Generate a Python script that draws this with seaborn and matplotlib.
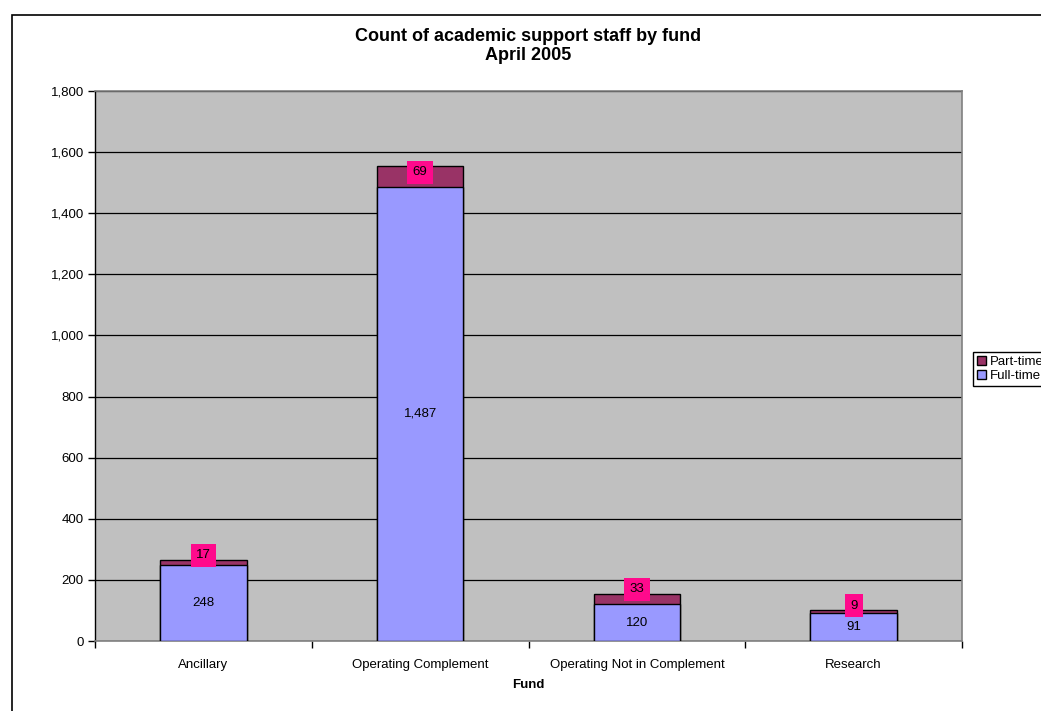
import matplotlib
matplotlib.use("Agg")
import matplotlib.pyplot as plt
from matplotlib.patches import Patch, Rectangle
from matplotlib.ticker import FuncFormatter, FixedLocator
import seaborn as sns
import pandas as pd

# Chart data
funds = ["Ancillary", "Operating Complement", "Operating Not in Complement", "Research"]
full_time = [248, 1487, 120, 91]
part_time = [17, 69, 33, 9]

df = pd.DataFrame({"Fund": funds, "Full-time": full_time, "Part-time": part_time})
df["Total"] = df["Full-time"] + df["Part-time"]

full_color = "#9999FF"
part_color = "#993366"
label_color = "#FF0A8C"

sns.set_theme(style="white")
plt.rcParams["font.family"] = ["Liberation Sans", "DejaVu Sans"]
plt.rcParams["text.color"] = "black"
plt.rcParams["axes.labelcolor"] = "black"

fs = 9.5

fig = plt.figure(figsize=(10.41, 7.11), dpi=100)
ax = fig.add_axes([95 / 1041, 1 - 641 / 711, (962 - 95) / 1041, (641 - 91) / 711])
ax.set_facecolor("#C0C0C0")

# stacked bars: totals first (part-time colour), full-time drawn over them
sns.barplot(data=df, x="Fund", y="Total", color=part_color, width=0.4,
            edgecolor="black", linewidth=1, saturation=1, ax=ax, zorder=3)
sns.barplot(data=df, x="Fund", y="Full-time", color=full_color, width=0.4,
            edgecolor="black", linewidth=1, saturation=1, ax=ax, zorder=3)

ax.set_ylim(0, 1800)
ax.set_xlim(-0.5, 3.5)
ax.yaxis.set_major_locator(FixedLocator(range(0, 1801, 200)))
ax.yaxis.set_major_formatter(FuncFormatter(lambda v, p: f"{int(v):,}"))
ax.grid(axis="y", color="black", linewidth=0.9, zorder=1)
ax.set_axisbelow(True)

ax.set_xticks(range(len(funds)))
ax.set_xticklabels(funds)
ax.set_xticks([i - 0.5 for i in range(len(funds) + 1)], minor=True)
ax.tick_params(axis="x", which="major", length=0, pad=13, labelsize=fs, colors="black")
ax.tick_params(axis="x", which="minor", length=5, width=1, color="black", bottom=True)
ax.tick_params(axis="y", length=5, width=1, color="black", left=True, labelsize=fs,
               pad=3, colors="black")

for side in ["top", "right", "bottom"]:
    ax.spines[side].set_color("#808080")
    ax.spines[side].set_linewidth(1.2)
ax.spines["left"].set_color("black")
ax.spines["left"].set_linewidth(1)

ax.set_ylabel("")
ax.set_xlabel("Fund", fontsize=fs, fontweight="bold", labelpad=6)

# value labels
for i, row in df.iterrows():
    ax.text(i, row["Full-time"] / 2, f"{row['Full-time']:,}", ha="center", va="center",
            fontsize=fs, color="black", zorder=5)
    seg_mid = row["Full-time"] + row["Part-time"] / 2
    if row["Part-time"] < 60:
        ax.text(i, row["Total"] - 4, f"{row['Part-time']:,}", ha="center", va="bottom",
                fontsize=fs, color="black", zorder=5,
                bbox=dict(boxstyle="square,pad=0.4", fc=label_color, ec="none"))
    else:
        ax.text(i, seg_mid + 12, f"{row['Part-time']:,}", ha="center", va="center",
                fontsize=fs, color="black", zorder=5,
                bbox=dict(boxstyle="square,pad=0.4", fc=label_color, ec="none"))

fig.text(528.5 / 1041, 1 - 46 / 711, "Count of academic support staff by fund\nApril 2005",
         ha="center", va="center", fontsize=13, fontweight="bold", linespacing=1.15,
         color="black")

handles = [Patch(facecolor=part_color, edgecolor="black", label="Part-time"),
           Patch(facecolor=full_color, edgecolor="black", label="Full-time")]
fig.legend(handles=handles, loc="upper left", bbox_to_anchor=(973 / 1041, 1 - 352 / 711),
           fontsize=fs, frameon=True, fancybox=False, edgecolor="black", framealpha=1,
           handlelength=0.7, handleheight=0.7, handletextpad=0.25, borderpad=0.3,
           labelspacing=0.15, borderaxespad=0)

# outer chart border (cut off at right and bottom, as in the source)
fig.patches.append(Rectangle((12 / 1041, -0.1), 1.2, 1 - 15 / 711 + 0.1,
                             transform=fig.transFigure, fill=False, edgecolor="black",
                             linewidth=1.2))

fig.savefig("out.png", dpi=100)
